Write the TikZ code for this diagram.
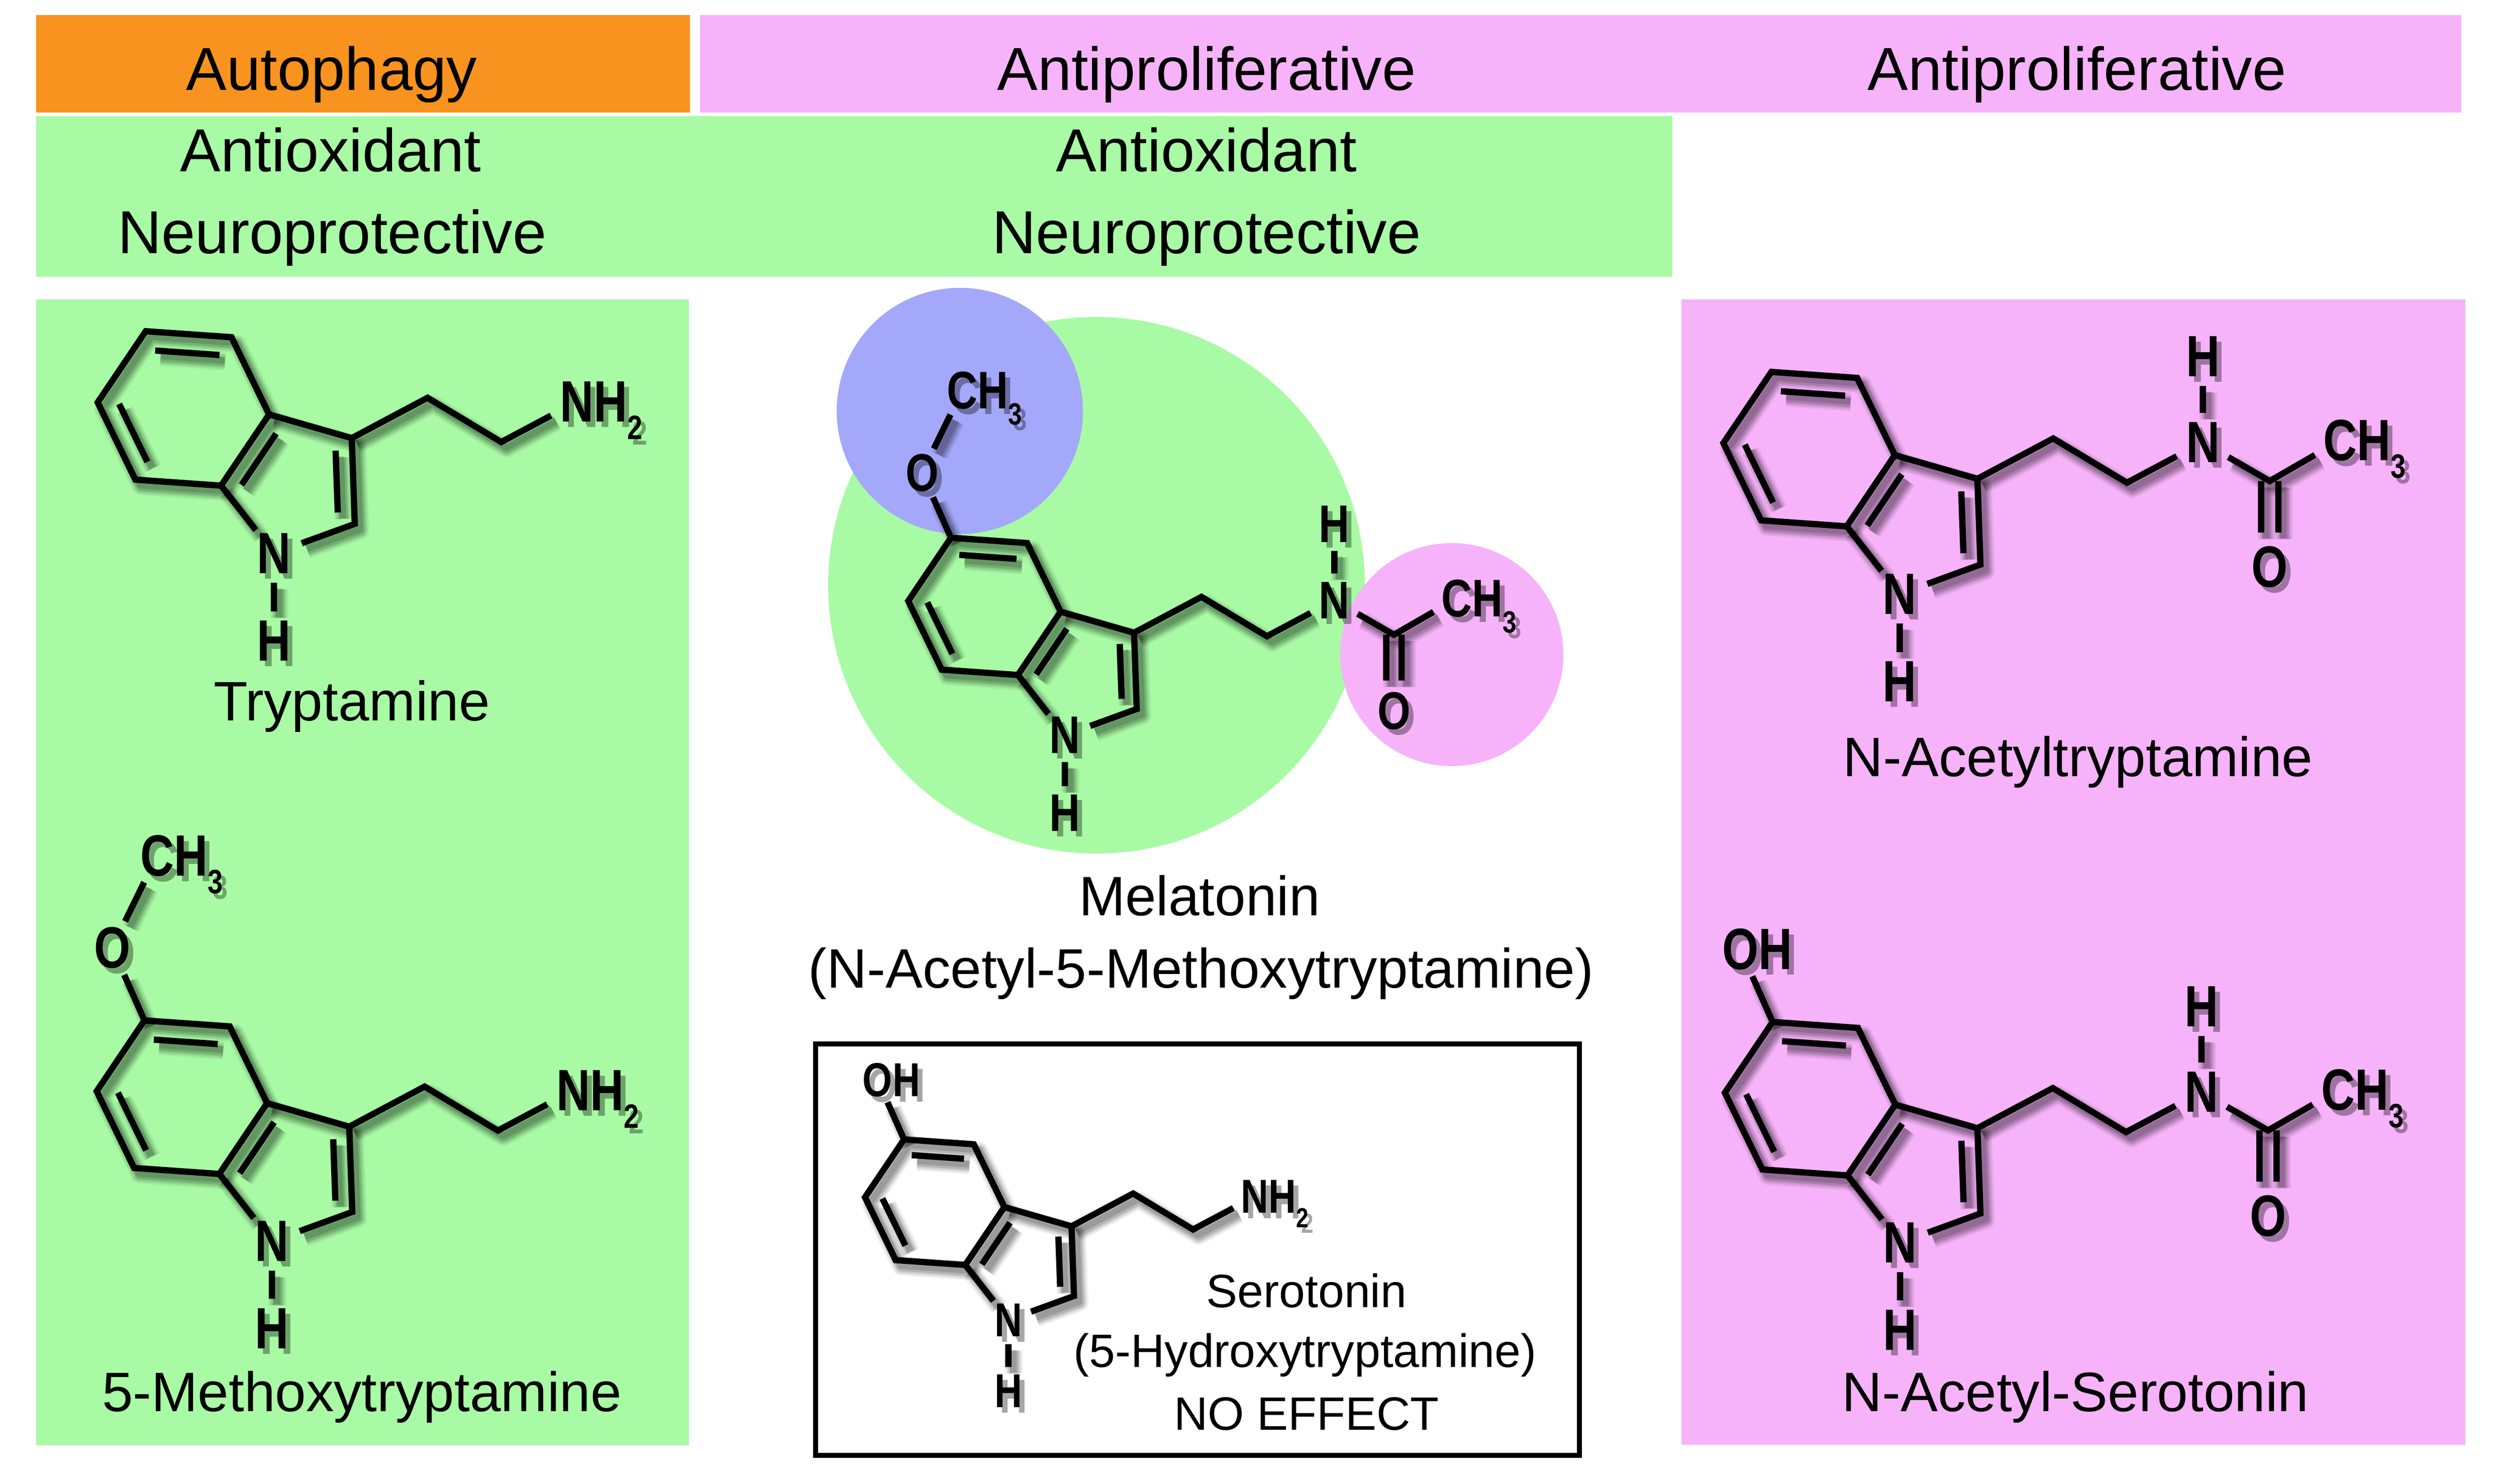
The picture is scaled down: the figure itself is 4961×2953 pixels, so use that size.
\documentclass[tikz,border=0pt]{standalone}
\usepackage{fontspec}
\usepackage{graphicx}
\setmainfont{Liberation Sans}
\newfontfamily\atomfont{Liberation Sans}[FakeStretch=0.8]
\usetikzlibrary{calc}
\definecolor{autoorange}{HTML}{F7931E}
\definecolor{antipink}{HTML}{F6B3F9}
\definecolor{antigreen}{HTML}{A8FBA4}
\definecolor{methblue}{HTML}{A4A8FB}
\newcommand\sub[1]{\raisebox{-0.3em}[0pt][0pt]{\scalebox{0.58}{#1}}}
\newcommand\atomsz{33pt}
\newcommand\atx[1]{#1}
\tikzset{
  chem/.style={text=black},
  atom/.style={chem, circle, inner sep=0pt, minimum size=\atomsz, font=\atomfont\bfseries\fontsize{\atomsz}{\atomsz}\selectfont},
  bond/.style={draw=black, line width=1.25mm, line join=miter},
  mol/.style n args={4}{shift={(#1,#2)}, x=#3, y=#3, rotate=-4, /utils/exec={\renewcommand\atomsz{#4}}},
  hdr/.style={font=\fontsize{34.4pt}{40pt}\selectfont, anchor=base},
  molname/.style={font=\fontsize{31.5pt}{36pt}\selectfont, anchor=base},
  sername/.style={font=\fontsize{26.5pt}{30pt}\selectfont, anchor=base},
  shadowpass/.style 2 args={bond/.append style={line width=#1, draw opacity=#2, line join=round}},
  textshadow/.style={chem/.append style={text opacity=#1}},
  notext/.style={/utils/exec={\renewcommand\atx[1]{}}},
}
\newcommand\indolecore[1]{%
  \coordinate (#1-hc) at (0,0);
  \coordinate (#1-pc) at (1.346,-0.777);
  \coordinate (#1-3a) at (0:1);
  \coordinate (#1-4)  at (60:1);
  \coordinate (#1-5)  at (120:1);
  \coordinate (#1-6)  at (180:1);
  \coordinate (#1-7)  at (240:1);
  \coordinate (#1-7a) at (300:1);
  \coordinate (#1-3)  at (1.978,-0.208);
  \coordinate (#1-2)  at (2.083,-1.202);
  \node[atom] (#1-N1) at (1.169,-1.609) {\atx{N}};
  \path (#1-N1) ++(-86:1.02) node[atom] (#1-H1) {\atx{H}};
  \draw[bond] (#1-3a) -- (#1-4) -- (#1-5) -- (#1-6) -- (#1-7) -- (#1-7a) -- cycle;
  \draw[bond] (#1-3a) -- (#1-3) -- (#1-2) -- (#1-N1) -- (#1-7a);
  \draw[bond] (#1-N1) -- (#1-H1);
  \draw[bond] ($(#1-4)!0.25!(#1-hc)$)  -- ($(#1-5)!0.25!(#1-hc)$);
  \draw[bond] ($(#1-6)!0.25!(#1-hc)$)  -- ($(#1-7)!0.25!(#1-hc)$);
  \draw[bond] ($(#1-3a)!0.28!(#1-pc)$) -- ($(#1-7a)!0.28!(#1-pc)$);
  \draw[bond] ($(#1-3)!0.28!(#1-pc)$)  -- ($(#1-2)!0.28!(#1-pc)$);
}
\newcommand\submethoxy[1]{%
  \path (#1-5) ++(118:0.93) node[atom] (#1-O5) {\atx{O}};
  \path (#1-O5) ++(68:1.2) node[atom] (#1-Me5) {\atx{C\rlap{H\sub{3}}}};
  \draw[bond] (#1-5) -- (#1-O5) -- (#1-Me5);
}
\newcommand\subhydroxy[1]{%
  \path (#1-5) ++(118:0.93) node[atom] (#1-O5) {\atx{O\rlap{H}}};
  \draw[bond] (#1-5) -- (#1-O5);
}
\newcommand\chainamine[1]{%
  \path (#1-3) ++(32:1) coordinate (#1-ca) ++(-27:1) coordinate (#1-cb) ++(32:1) node[atom] (#1-Na) {\atx{N\rlap{H\sub{2}}}};
  \draw[bond] (#1-3) -- (#1-ca) -- (#1-cb) -- (#1-Na);
}
\newcommand\chainacet[1]{%
  \path (#1-3) ++(32:1) coordinate (#1-ca) ++(-27:1) coordinate (#1-cb) ++(32:1) node[atom] (#1-Na) {\atx{N}};
  \path (#1-Na) ++(94:1) node[atom] (#1-Ha) {\atx{H}};
  \path (#1-Na) ++(-26:0.9) coordinate (#1-cc);
  \path (#1-cc) ++(34:0.95) node[atom] (#1-Me) {\atx{C\rlap{H\sub{3}}}};
  \path (#1-cc) ++(-86:1.0) node[atom] (#1-O) {\atx{O}};
  \draw[bond] (#1-3) -- (#1-ca) -- (#1-cb) -- (#1-Na) -- (#1-cc) -- (#1-Me);
  \draw[bond] (#1-Na) -- (#1-Ha);
  \draw[bond] (#1-cc) ++(184:0.1) -- ++(-86:0.6);
  \draw[bond] (#1-cc) ++(4:0.1) -- ++(-86:0.6);
}
\newcommand\drawmolecules{%
  \begin{scope}[mol={365}{813}{17.1mm}{33pt}]
    \indolecore{tr} \chainamine{tr}
  \end{scope}
  \begin{scope}[mol={362}{2184}{17.0mm}{33pt}]
    \indolecore{mt} \submethoxy{mt} \chainamine{mt}
  \end{scope}
  \begin{scope}[mol={1959}{1207}{15.2mm}{30pt}]
    \indolecore{ml} \submethoxy{ml} \chainacet{ml}
  \end{scope}
  \begin{scope}[mol={1860}{2393}{13.9mm}{27pt}]
    \indolecore{se} \subhydroxy{se} \chainamine{se}
  \end{scope}
  \begin{scope}[mol={3600}{894}{17.1mm}{33pt}]
    \indolecore{at} \chainacet{at}
  \end{scope}
  \begin{scope}[mol={3602}{2187}{17.0mm}{33pt}]
    \indolecore{as} \subhydroxy{as} \chainacet{as}
  \end{scope}
}
\begin{document}
\begin{tikzpicture}[x=0.1mm, y=-0.1mm]
  \useasboundingbox (0,0) rectangle (4961,2953);
  \fill[autoorange] (72,30)    rectangle (1373,224);
  \fill[antipink]   (1393,30)  rectangle (4898,224);
  \fill[antigreen]  (72,231)   rectangle (3328,551);
  \fill[antigreen]  (72,596)   rectangle (1371,2877);
  \fill[antipink]   (3346,596) rectangle (4906,2876);
  \fill[antigreen]  (2182,1165) circle (534);
  \fill[methblue]   (1910,818)  circle (245);
  \fill[antipink]   (2889,1303) circle (222);
  \draw[line width=1mm] (1623,2078) rectangle (3143,2897);

  \foreach \w/\o in {3.6mm/0.05, 3.0mm/0.07, 2.4mm/0.09, 1.8mm/0.12}
    \begin{scope}[shift={(11,13)}, notext, shadowpass={\w}{\o}] \drawmolecules \end{scope};
  \begin{scope}[shift={(10,11)}, shadowpass={1.3mm}{0.14}, textshadow=0.35] \drawmolecules \end{scope}
  \drawmolecules

  \node[hdr] (hautophagy)  at (660,179.5)  {Autophagy};
  \node[hdr] (hantiprolm)  at (2401,179.5) {Antiproliferative};
  \node[hdr] (hantiprolr)  at (4133,179.5) {Antiproliferative};
  \node[hdr] (hantioxl)    at (658,341)    {Antioxidant};
  \node[hdr] (hneurol)     at (661,504)    {Neuroprotective};
  \node[hdr] (hantioxm)    at (2401,341)   {Antioxidant};
  \node[hdr] (hneurom)     at (2401,504)   {Neuroprotective};

  \node[molname] (ntrypt)     at (700,1434)  {Tryptamine};
  \node[molname] (nmethoxy)   at (720,2809)  {5-Methoxytryptamine};
  \node[molname] (nmelat)     at (2387,1822) {Melatonin};
  \node[molname] (nmelatfull) at (2390,1966) {(N-Acetyl-5-Methoxytryptamine)};
  \node[molname] (nacettrypt) at (4135,1545) {N-Acetyltryptamine};
  \node[molname] (nacetsero)  at (4130,2809) {N-Acetyl-Serotonin};
  \node[sername] (nsero)      at (2600,2602) {Serotonin};
  \node[sername] (nserofull)  at (2597,2721) {(5-Hydroxytryptamine)};
  \node[sername] (nnoeffect)  at (2600,2846) {NO EFFECT};
\end{tikzpicture}
\end{document}
